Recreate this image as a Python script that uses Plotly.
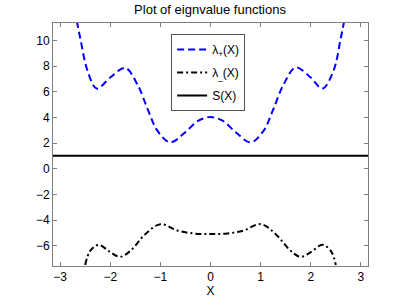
import plotly.graph_objects as go

x_plus = [-2.75, -2.6, -2.45, -2.27, -2.0, -1.7, -1.45, -1.25, -1.05, -0.8, -0.5, -0.25, 0.0,
          0.25, 0.5, 0.8, 1.05, 1.25, 1.45, 1.7, 2.0, 2.23, 2.45, 2.6, 2.75]
lambda_plus = [13.2, 10.2, 7.6, 6.24, 7.1, 7.85, 6.5, 4.6, 2.9, 2.05, 2.85, 3.72, 4.02,
               3.72, 2.85, 2.05, 2.9, 4.6, 6.5, 7.88, 7.1, 6.24, 7.6, 10.2, 13.2]

x_minus = [-2.5, -2.4, -2.23, -2.0, -1.8, -1.6, -1.3, -1.0, -0.65, -0.3, 0.0,
           0.3, 0.65, 1.0, 1.3, 1.6, 1.8, 2.0, 2.23, 2.4, 2.5]
lambda_minus = [-7.5, -6.4, -5.93, -6.5, -6.87, -6.4, -5.1, -4.32, -4.83, -5.06, -5.08,
                -5.06, -4.83, -4.32, -5.1, -6.4, -6.87, -6.5, -5.93, -6.4, -7.5]

x_s = [-3.1416, 3.1416]
s_vals = [1.0, 1.0]

x_ticks = [-3, -2, -1, 0, 1, 2, 3]
y_ticks = [-6, -4, -2, 0, 2, 4, 6, 8, 10]

FONT = "Liberation Sans, Arial"

fig = go.Figure()
fig.add_trace(go.Scatter(x=x_plus, y=lambda_plus, mode="lines", name="λ<sub>+</sub>(X)", legendgroup="a",
                         line=dict(color="rgb(0,0,255)", width=2, dash="7px,4px", shape="spline", smoothing=1.0)))
fig.add_trace(go.Scatter(x=x_minus, y=lambda_minus, mode="lines", name="λ<sub>_</sub>(X)", legendgroup="b",
                         line=dict(color="black", width=2, dash="6px,3px,2px,3px", shape="spline", smoothing=1.0)))
fig.add_trace(go.Scatter(x=x_s, y=s_vals, mode="lines", name="S(X)", legendgroup="c",
                         line=dict(color="black", width=2)))

axis_common = dict(showgrid=False, zeroline=False, showline=True, linecolor="#7f7f7f", linewidth=1,
                   mirror="allticks", ticks="inside", ticklen=4, tickcolor="#7f7f7f",
                   tickfont=dict(family=FONT, size=12, color="black"))

fig.update_layout(
    width=407, height=306,
    margin=dict(l=53, r=39, t=23, b=35),
    paper_bgcolor="white", plot_bgcolor="white",
    title=dict(text="Plot of eignvalue functions", x=0.516, xanchor="center",
               yref="container", y=1 - 9 / 306, yanchor="middle",
               font=dict(family=FONT, size=13, color="black")),
    xaxis=dict(range=[-3.1416, 3.1416], tickvals=x_ticks,
               title=dict(text="X", standoff=1, font=dict(family=FONT, size=12, color="black")),
               **axis_common),
    yaxis=dict(range=[-7.58, 11.35], tickvals=y_ticks, **axis_common),
    legend=dict(x=0.375, y=0.955, xanchor="left", yanchor="top", bgcolor="white",
                bordercolor="#555555", borderwidth=1,
                font=dict(family=FONT, size=12, color="black"),
                itemwidth=30, tracegroupgap=4),
    showlegend=True,
)

fig.write_html("out.html", config={"displayModeBar": False},
               post_script="document.body.style.margin='0';")
